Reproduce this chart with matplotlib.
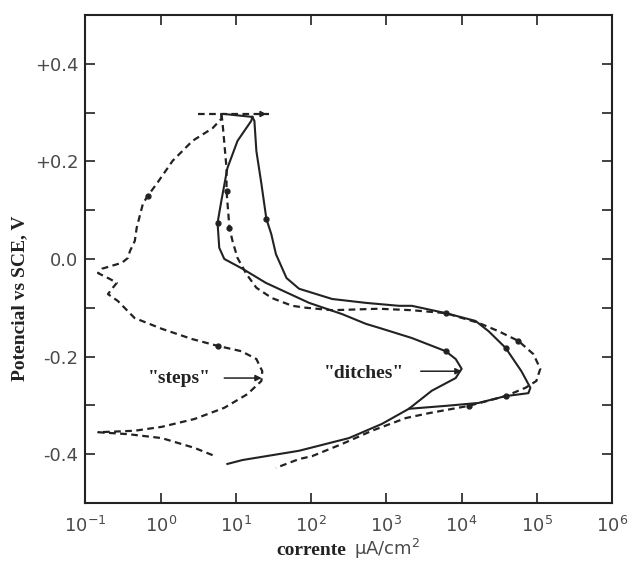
import matplotlib
matplotlib.use("Agg")
import matplotlib.pyplot as plt
from matplotlib.ticker import FixedLocator, NullFormatter, NullLocator

# ---------------- data (current in uA/cm^2, potential in V vs SCE) ----------------
# "steps" specimen, forward (anodic) scan - dashed
steps_I = [4.9, 2.8, 1.03, 0.37, 0.148, 0.45, 1.03, 2.8, 7.0, 14.2,
           21.8, 22.4, 18.7, 11.8, 5.7, 2.6, 1.03, 0.45, 0.269, 0.199,
           0.231, 0.261, 0.211, 0.147, 0.166, 0.224, 0.304, 0.366, 0.39, 0.453,
           0.48, 0.58, 0.67, 0.885, 1.44, 2.65, 4.9, 6.4, 6.4]
steps_E = [-0.402, -0.387, -0.367, -0.359, -0.355, -0.352, -0.344, -0.328, -0.305, -0.277,
           -0.250, -0.230, -0.205, -0.189, -0.178, -0.164, -0.143, -0.121, -0.086, -0.072,
           -0.059, -0.049, -0.041, -0.029, -0.020, -0.014, -0.008, 0.002, 0.016, 0.037,
           0.064, 0.113, 0.129, 0.154, 0.201, 0.242, 0.268, 0.287, 0.297]

# reverse scan - dashed
steps_rev_I = [6.4, 6.6, 7.5, 7.5, 8.2, 9.0, 10.5, 13.8, 18.7, 30,
               56, 86, 190, 796, 2180, 6140, 16800, 30900, 56900, 89900,
               111000, 98400, 70500, 38300, 12400, 3650, 1810, 643, 258, 103,
               69, 34]
steps_rev_E = [0.297, 0.283, 0.186, 0.139, 0.064, 0.037, 0.002, -0.031, -0.059, -0.080,
               -0.096, -0.100, -0.105, -0.102, -0.105, -0.111, -0.131, -0.148, -0.168, -0.195,
               -0.225, -0.250, -0.264, -0.281, -0.301, -0.316, -0.326, -0.352, -0.379, -0.404,
               -0.410, -0.428]

# "ditches" specimen, forward scan - solid
ditches_I = [7.7, 12.2, 69, 318, 871, 1990, 4010, 8330, 10000, 8330,
             6140, 2180, 796, 535, 258, 94, 25, 12.2, 7.0, 6.0,
             5.7, 6.4, 7.7, 10.5, 16.0, 16.5]
ditches_E = [-0.420, -0.412, -0.393, -0.367, -0.338, -0.307, -0.270, -0.244, -0.225, -0.205,
             -0.189, -0.162, -0.141, -0.133, -0.113, -0.090, -0.049, -0.020, 0.000, 0.023,
             0.074, 0.119, 0.186, 0.242, 0.283, 0.291]

# reverse scan - solid
ditches_rev_I = [16.5, 17.6, 18.7, 21.8, 25.4, 29.5, 34, 47, 69, 190,
                 535, 1470, 2180, 6140, 15300, 22800, 38300, 62300, 82000, 77100,
                 38300, 16800, 6140, 1990]
ditches_rev_E = [0.291, 0.283, 0.221, 0.154, 0.082, 0.051, 0.010, -0.039, -0.061, -0.082,
                 -0.090, -0.096, -0.096, -0.111, -0.127, -0.148, -0.182, -0.230, -0.264, -0.275,
                 -0.281, -0.295, -0.301, -0.307]

# reversal (hold) at +0.30 V
hold_dashed_I = [3.1, 27.8]
hold_dashed_E = [0.297, 0.297]
hold_solid_I = [7.0, 16.5]
hold_solid_E = [0.297, 0.291]

# scan-direction dots (indices into the curves)
steps_marks = [14, 32]
steps_rev_marks = [3, 4, 15, 18, 24]
ditches_marks = [10, 20]
ditches_rev_marks = [4, 16, 20]

# annotation labels: text position, arrow tail and arrow tip (I, E)
steps_label = ('"steps"', 1.75, -0.244)
steps_arrow = (7.0, 22.0, -0.244)
ditches_label = ('"ditches"', 500, -0.234)
ditches_arrow = (2860, 10000, -0.230)

x_ticks = [1e-1, 1e0, 1e1, 1e2, 1e3, 1e4, 1e5, 1e6]
x_ticklabels = [r"$10^{-1}$", r"$10^{0}$", r"$10^{1}$", r"$10^{2}$", r"$10^{3}$",
                r"$10^{4}$", r"$10^{5}$", r"$10^{6}$"]
y_ticks = [0.4, 0.2, 0.0, -0.2, -0.4]
y_ticklabels = ["+0.4", "+0.2", "0.0", "-0.2", "-0.4"]
y_minor = [0.3, 0.1, -0.1, -0.3]

# ---------------- plotting ----------------
plt.rcParams["mathtext.fontset"] = "dejavusans"

fig = plt.figure(figsize=(6.33, 5.61), dpi=100)
ax = fig.add_axes([0.135, 0.1034, 0.832, 0.870])

ink = "#222222"
grey = "#4a4a4a"
dash = (0, (3, 2))
lw = 1.6

ax.plot(steps_I, steps_E, color=ink, lw=lw, linestyle=dash)
ax.plot(steps_rev_I, steps_rev_E, color=ink, lw=lw, linestyle=dash)
ax.plot(hold_dashed_I, hold_dashed_E, color=ink, lw=lw, linestyle=dash)
ax.plot(ditches_I, ditches_E, color=ink, lw=1.5)
ax.plot(ditches_rev_I, ditches_rev_E, color=ink, lw=1.5)
ax.plot(hold_solid_I, hold_solid_E, color=ink, lw=1.5)

def dots(I, E, idx):
    ax.plot([I[i] for i in idx], [E[i] for i in idx], "o", color=ink, ms=3.5)

dots(steps_I, steps_E, steps_marks)
dots(steps_rev_I, steps_rev_E, steps_rev_marks)
dots(ditches_I, ditches_E, ditches_marks)
dots(ditches_rev_I, ditches_rev_E, ditches_rev_marks)

# arrow head at end of hold line
ax.annotate("", xy=(hold_dashed_I[1], hold_dashed_E[1]), xytext=(18, hold_dashed_E[1]),
            arrowprops=dict(arrowstyle="-|>", color=ink, lw=1.0, mutation_scale=9))

serif = dict(family="Liberation Serif", fontweight="bold", fontsize=14, color=ink)

for (txt, tx, ty), (a0, a1, ay) in ((steps_label, steps_arrow), (ditches_label, ditches_arrow)):
    ax.text(tx, ty, txt, ha="center", va="center", **serif)
    ax.annotate("", xy=(a1, ay), xytext=(a0, ay),
                arrowprops=dict(arrowstyle="-|>", color=ink, lw=1.1, mutation_scale=9,
                                shrinkA=0, shrinkB=0))

ax.set_xscale("log")
ax.set_xlim(1e-1, 1e6)
ax.set_ylim(-0.5, 0.5)

ax.xaxis.set_major_locator(FixedLocator(x_ticks))
ax.xaxis.set_minor_locator(NullLocator())
ax.set_xticklabels(x_ticklabels)
ax.yaxis.set_major_locator(FixedLocator(y_ticks))
ax.set_yticklabels(y_ticklabels)
ax.yaxis.set_minor_locator(FixedLocator(y_minor))
ax.yaxis.set_minor_formatter(NullFormatter())

ax.tick_params(axis="both", which="both", direction="in", length=7, width=1.2,
               color=ink, top=True, right=True, labelsize=13, labelcolor=grey)
ax.tick_params(axis="x", pad=9)
ax.tick_params(axis="y", pad=5)
for lab in ax.get_yticklabels():
    lab.set_family("DejaVu Sans")

for s in ax.spines.values():
    s.set_color(ink)
    s.set_linewidth(1.5)

ax.set_ylabel("Potencial vs SCE, V", **serif)
ax.yaxis.set_label_coords(-0.108, 0.42)
ax.text(0.496, -0.097, "corrente", transform=ax.transAxes, ha="right", va="center", **serif)
ax.text(0.510, -0.095, "\u03bcA/cm$^2$", transform=ax.transAxes, ha="left", va="center",
        family="DejaVu Sans", fontsize=13, color=grey)

fig.savefig("out.png", dpi=100, facecolor="white")
